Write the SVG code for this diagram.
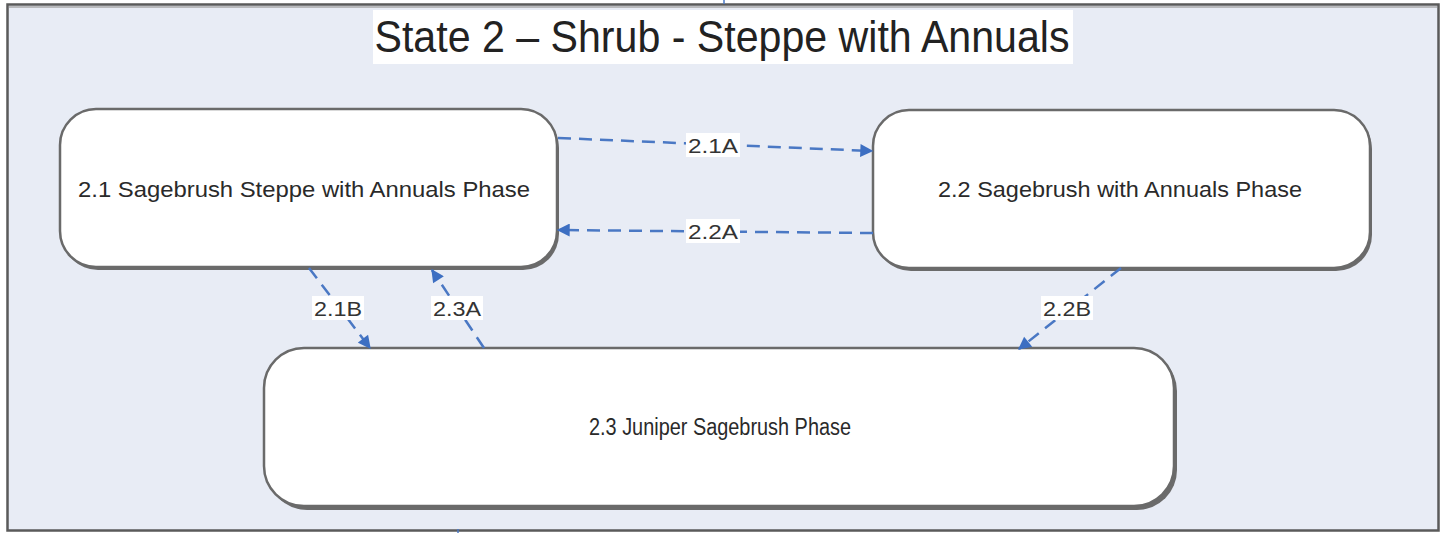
<svg xmlns="http://www.w3.org/2000/svg" width="1449" height="533" viewBox="0 0 1449 533">
<defs>
<style>
.frame{fill:#E8ECF5;stroke:#5a5a5a;stroke-width:2.5}
.shadow{fill:#6b6b6b}
.node{fill:#ffffff;stroke:#6a6a6a;stroke-width:2.5}
.ntext{font-family:"Liberation Sans",Arial,sans-serif;fill:#2a2a2a;text-anchor:middle}
.title{font-family:"Liberation Sans",Arial,sans-serif;font-size:44px;fill:#222;text-anchor:middle}
.edge{fill:none;stroke:#4a78c4;stroke-width:2.5;stroke-dasharray:13 8}
.lblbg{fill:#ffffff}
.lbl{font-family:"Liberation Sans",Arial,sans-serif;font-size:21px;fill:#333;text-anchor:middle}
</style>
<marker id="arr" viewBox="0 0 10 10" refX="9" refY="5" markerWidth="15" markerHeight="13" markerUnits="userSpaceOnUse" orient="auto">
<path d="M0,0 L10,5 L0,10 Z" fill="#3d6fc2"/>
</marker>
</defs>
<rect x="0" y="0" width="1449" height="533" fill="#ffffff"/>
<rect class="frame" x="7.5" y="4.5" width="1431" height="526"/>
<line x1="9" y1="7" x2="1437" y2="7" stroke="#aaaaaa" stroke-width="1.5"/>
<line x1="724" y1="0" x2="724" y2="4" stroke="#4a78c4" stroke-width="1.5"/>
<line x1="458" y1="529" x2="458" y2="533" stroke="#4a78c4" stroke-width="1.5"/>

<g id="title">
<rect x="373" y="10" width="700" height="54" fill="#ffffff"/>
<text class="title" x="722" y="52" textLength="695" lengthAdjust="spacingAndGlyphs">State 2 – Shrub - Steppe with Annuals</text>
</g>

<g id="node-2-1">
<rect class="shadow" x="62" y="112" width="497" height="158" rx="36"/>
<rect class="node" x="60" y="109" width="497" height="158" rx="36"/>
<text class="ntext" x="304" y="197" font-size="22" textLength="452" lengthAdjust="spacingAndGlyphs">2.1 Sagebrush Steppe with Annuals Phase</text>
</g>

<g id="node-2-2">
<rect class="shadow" x="875" y="113" width="497" height="158" rx="36"/>
<rect class="node" x="873" y="110" width="497" height="158" rx="36"/>
<text class="ntext" x="1120" y="197" font-size="22" textLength="364" lengthAdjust="spacingAndGlyphs">2.2 Sagebrush with Annuals Phase</text>
</g>

<g id="node-2-3">
<rect class="shadow" x="267" y="351" width="910" height="159" rx="40"/>
<rect class="node" x="264" y="348" width="910" height="158" rx="40"/>
<text class="ntext" x="720" y="435" font-size="23" textLength="262" lengthAdjust="spacingAndGlyphs">2.3 Juniper Sagebrush Phase</text>
</g>

<g id="connectors">
<line class="edge" x1="558" y1="138" x2="872" y2="151" marker-end="url(#arr)"/>
<line class="edge" x1="873" y1="233" x2="558" y2="230" marker-end="url(#arr)"/>
<line class="edge" x1="309" y1="268" x2="370" y2="348" marker-end="url(#arr)"/>
<line class="edge" x1="484" y1="348" x2="432" y2="270" marker-end="url(#arr)"/>
<line class="edge" x1="1121" y1="268" x2="1019" y2="349" marker-end="url(#arr)"/>

<rect class="lblbg" x="686" y="133" width="54" height="24"/>
<text class="lbl" x="713" y="153" textLength="50" lengthAdjust="spacingAndGlyphs">2.1A</text>
<rect class="lblbg" x="686" y="219" width="54" height="24"/>
<text class="lbl" x="713" y="239" textLength="50" lengthAdjust="spacingAndGlyphs">2.2A</text>
<rect class="lblbg" x="312" y="296" width="52" height="24"/>
<text class="lbl" x="338" y="316" textLength="48" lengthAdjust="spacingAndGlyphs">2.1B</text>
<rect class="lblbg" x="431" y="296" width="52" height="24"/>
<text class="lbl" x="457" y="316" textLength="48" lengthAdjust="spacingAndGlyphs">2.3A</text>
<rect class="lblbg" x="1041" y="296" width="52" height="24"/>
<text class="lbl" x="1067" y="316" textLength="48" lengthAdjust="spacingAndGlyphs">2.2B</text>
</g>
</svg>
